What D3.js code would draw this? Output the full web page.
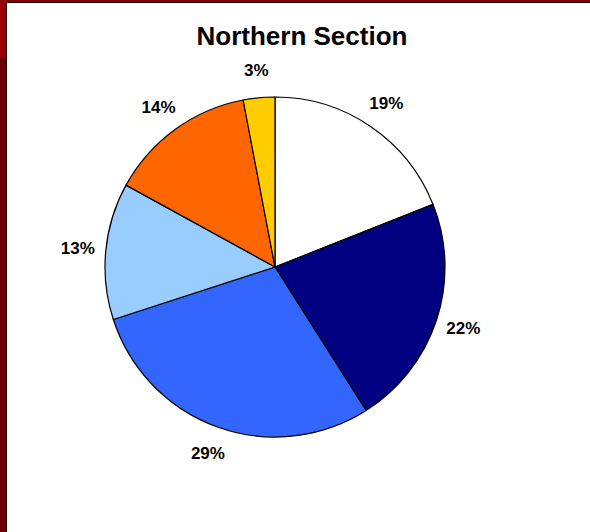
<!DOCTYPE html>
<html>
<head>
<meta charset="utf-8">
<script src="https://cdn.jsdelivr.net/npm/d3@7"></script>
<style>
  html, body { margin: 0; padding: 0; background: #fff; }
  svg { display: block; }
</style>
</head>
<body>
<svg id="chart" width="590" height="532"></svg>
<script>
// Share of each group in the Northern Section (percent)
const categories = ["Group A", "Group B", "Group C", "Group D", "Group E", "Group F"];
const values = [19, 22, 29, 13, 14, 3];
const labels = ["19%", "22%", "29%", "13%", "14%", "3%"];
const colors = ["#FFFFFF", "#000080", "#3366FF", "#99CCFF", "#FF6600", "#FFCC00"];
const title = "Northern Section";

const svg = d3.select("#chart");
const W = 590, H = 532;

// slide frame: dark red edge with a thin black rule
svg.append("rect").attr("x", 0).attr("y", 0).attr("width", W).attr("height", H).attr("fill", "#fff");
svg.append("rect").attr("x", 0).attr("y", 0).attr("width", 7).attr("height", 58).attr("fill", "#990000");
svg.append("rect").attr("x", 0).attr("y", 58).attr("width", 7).attr("height", H - 58).attr("fill", "#6b0000");
svg.append("rect").attr("x", 0).attr("y", 0).attr("width", W).attr("height", 2).attr("fill", "#8a0000");
svg.append("rect").attr("x", 6).attr("y", 2).attr("width", W - 6).attr("height", 1).attr("fill", "#1a0000");
svg.append("rect").attr("x", 6).attr("y", 2).attr("width", 1).attr("height", H - 2).attr("fill", "#1a0000");

// title
svg.append("text")
  .attr("x", 302)
  .attr("y", 45)
  .attr("text-anchor", "middle")
  .attr("font-family", "Liberation Sans, Arial, sans-serif")
  .attr("font-weight", "bold")
  .attr("font-size", 26)
  .attr("fill", "#000")
  .text(title);

// pie
const cx = 275, cy = 267, r = 170;
const data = categories.map((c, i) => ({ cat: c, value: values[i], label: labels[i], color: colors[i] }));

const pie = d3.pie().value(d => d.value).sort(null).startAngle(0).endAngle(2 * Math.PI);
const arc = d3.arc().innerRadius(0).outerRadius(r);
const labelArc = d3.arc().innerRadius(r + 28).outerRadius(r + 28);

const g = svg.append("g").attr("transform", `translate(${cx},${cy})`);

g.selectAll("path.slice")
  .data(pie(data))
  .join("path")
  .attr("class", "slice")
  .attr("d", arc)
  .attr("fill", d => d.data.color)
  .attr("stroke", "#000")
  .attr("stroke-width", 1.2)
  .attr("stroke-linejoin", "round");

g.selectAll("text.lbl")
  .data(pie(data))
  .join("text")
  .attr("class", "lbl")
  .attr("transform", d => `translate(${labelArc.centroid(d)})`)
  .attr("text-anchor", "middle")
  .attr("dy", "0.36em")
  .attr("font-family", "Liberation Sans, Arial, sans-serif")
  .attr("font-weight", "bold")
  .attr("font-size", 17)
  .attr("fill", "#000")
  .text(d => d.data.label);
</script>
</body>
</html>
